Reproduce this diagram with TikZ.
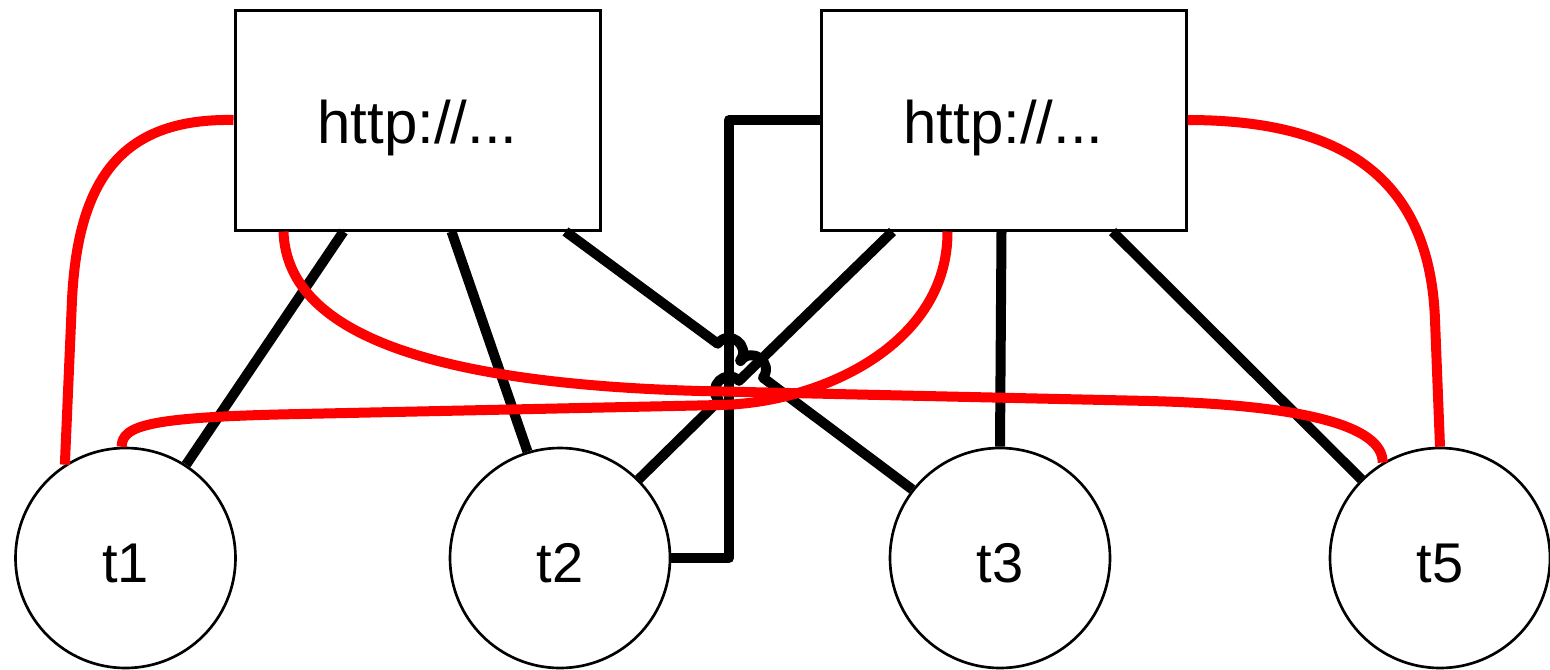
\documentclass[tikz,border=0pt]{standalone}
\usepackage{fontspec}
\setmainfont{Liberation Sans}
\usetikzlibrary{calc}
\begin{document}
\begin{tikzpicture}[x=0.75pt,y=-0.75pt,
  urlbox/.style={draw,line width=2.25pt,fill=white,minimum width=273.75pt,minimum height=165pt,inner sep=0pt,
     font=\fontsize{45pt}{50pt}\selectfont,text height=34.5pt,text depth=0pt},
  tnode/.style={draw,circle,line width=2pt,fill=white,minimum size=165pt,inner sep=0pt,
     font=\fontsize{42pt}{48pt}\selectfont,text height=36pt,text depth=0pt},
  blk/.style={line width=7.5pt,black,line join=round},
  rd/.style={line width=7.5pt,red,line join=round},
  jmpl/.style={bend left=90,looseness=1.7},
  jmpr/.style={bend right=90,looseness=1.7}]
\def\jr{10.5pt}
\fill[white] (0,0) rectangle (1550,669);
\useasboundingbox (0,0) rectangle (1550,669);

% nodes
\node[urlbox] (b1) at (417.5,120) {http://...};
\node[urlbox] (b2) at (1003.5,120) {http://...};
\node[tnode] (t1) at (125.5,558) {t1};
\node[tnode] (t2) at (560,558) {t2};
\node[tnode] (t3) at (1000,558) {t3};
\node[tnode] (t5) at (1440,558) {t5};

% anchor points on boxes
\coordinate (b1r) at ($(b1.south west)+(50,0)$);
\coordinate (b1a) at ($(b1.south west)+(110,0)$);
\coordinate (b1b) at ($(b1.south west)+(218,0)$);
\coordinate (b1c) at ($(b1.south west)+(332,0)$);
\coordinate (b2a) at ($(b2.south west)+(73,0)$);
\coordinate (b2r) at ($(b2.south west)+(128,0)$);
\coordinate (b2b) at ($(b2.south west)+(182,0)$);
\coordinate (b2c) at ($(b2.south west)+(293,0)$);
\coordinate (vx) at (729,120);
\coordinate (vy) at (729,558);

% jump points
\coordinate (j1) at (729,352);
\coordinate (j2) at (751.8,369.3);
\coordinate (j3) at (729,390.6);

% black connectors
\draw[blk] (b1a) -- (t1.57.5);
\draw[blk] (b1b) -- (t2.107);
\draw[blk] (b2.west) -- (vx) -- (vy) -- (t2.east);
\draw[blk] (b2a) -- ($(j3)!\jr!(b2a)$) to[jmpr] ($(j3)!\jr!(t2.45)$) -- (t2.45);
\draw[blk] (b1c) -- ($(j1)!\jr!(b1c)$) to[jmpl] ($(j1)!\jr!(t3.142)$)
   -- ($(j2)!\jr!(b1c)$) to[jmpl] ($(j2)!\jr!(t3.142)$) -- (t3.142);
\draw[blk] (b2b) -- (t3.north);
\draw[blk] (b2c) -- (t5.135);

% red connectors
\draw[rd] (b1.west) .. controls (125,118) and (78,175) .. (72,300) -- (t1.123);
\draw[rd] (b1r) .. controls (287,340) and (450,384) .. (700,391) -- (1150,401)
   .. controls (1300,405) and (1383,425) .. (t5.121);
\draw[rd] (b2r) .. controls (948,345) and (820,403) .. (720,405) -- (300,414)
   .. controls (150,417) and (122,425) .. (t1.92);
\draw[rd] (b2.east) .. controls (1345,120) and (1430,180) .. (1435,320) -- (t5.90);
\end{tikzpicture}
\end{document}
